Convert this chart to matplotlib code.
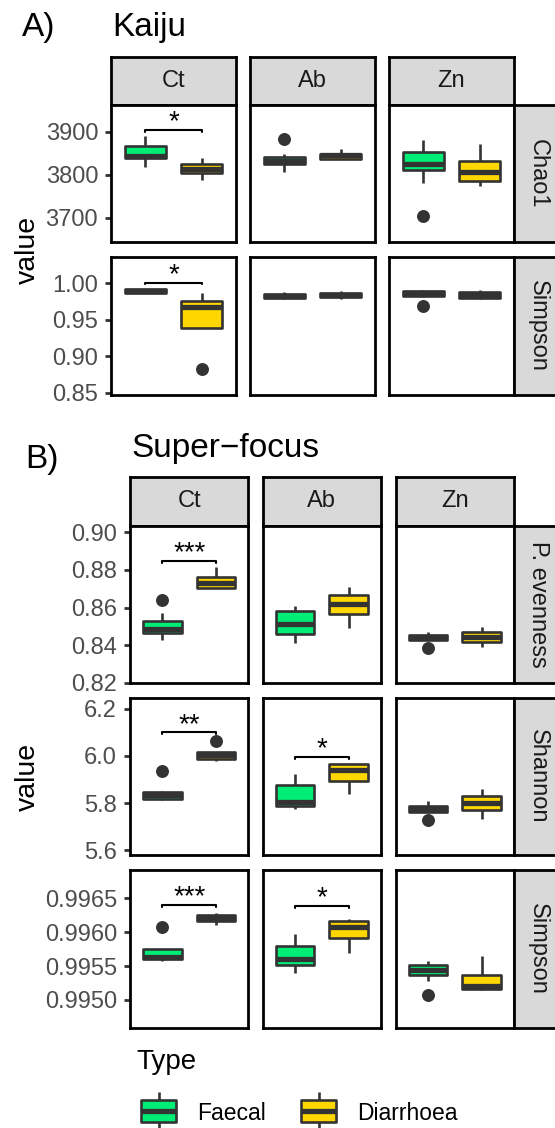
import matplotlib
matplotlib.use('Agg')
import matplotlib.pyplot as plt
from matplotlib.patches import Rectangle

plt.rcParams['font.family'] = ['Liberation Sans', 'DejaVu Sans']

W, H = 555, 1128

sites = ['Ct', 'Ab', 'Zn']
types = ['Faecal', 'Diarrhoea']
type_colors = ['#00EE76', '#FFD700']
edge_color = '#333333'

# five-number summaries: whisker low, Q1, median, Q3, whisker high
# box order: Ct Faecal, Ct Diarrhoea, Ab Faecal, Ab Diarrhoea, Zn Faecal, Zn Diarrhoea
kaiju_chao1 = [
    [3818, 3838, 3843, 3867, 3890],
    [3787, 3804, 3813, 3824, 3840],
    [3806, 3825, 3833, 3841, 3848],
    [3837, 3837, 3846, 3849, 3859],
    [3781, 3812, 3824, 3852, 3881],
    [3774, 3785, 3807, 3833, 3871],
]
kaiju_chao1_out = [[], [], [3883], [], [3703], []]
kaiju_chao1_sig = ['*', '', '']
kaiju_chao1_bar = [3904, None, None]

kaiju_simpson = [
    [0.9858, 0.9862, 0.9885, 0.9912, 0.9915],
    [0.9391, 0.9391, 0.9676, 0.9751, 0.9862],
    [0.9780, 0.9798, 0.9826, 0.9855, 0.9880],
    [0.9775, 0.9806, 0.9838, 0.9870, 0.9895],
    [0.9815, 0.9822, 0.9859, 0.9896, 0.9898],
    [0.9775, 0.9795, 0.9836, 0.9877, 0.9900],
]
kaiju_simpson_out = [[], [0.882], [], [], [0.9686], []]
kaiju_simpson_sig = ['*', '', '']
kaiju_simpson_bar = [1.0004, None, None]

sf_evenness = [
    [0.8427, 0.8462, 0.8485, 0.8527, 0.8572],
    [0.8706, 0.8706, 0.8729, 0.8763, 0.8817],
    [0.8413, 0.8458, 0.8512, 0.8580, 0.8610],
    [0.8489, 0.8564, 0.8620, 0.8669, 0.8707],
    [0.8429, 0.8429, 0.8441, 0.8453, 0.8470],
    [0.8388, 0.8414, 0.8444, 0.8472, 0.8495],
]
sf_evenness_out = [[0.8640], [], [], [], [0.8386], []]
sf_evenness_sig = ['***', '', '']
sf_evenness_bar = [0.8849, None, None]

sf_shannon = [
    [5.815, 5.817, 5.833, 5.849, 5.852],
    [5.980, 5.989, 6.004, 6.019, 6.019],
    [5.774, 5.788, 5.803, 5.877, 5.924],
    [5.839, 5.895, 5.939, 5.964, 5.964],
    [5.763, 5.763, 5.775, 5.787, 5.810],
    [5.731, 5.770, 5.800, 5.831, 5.859],
]
sf_shannon_out = [[5.936], [6.065], [], [], [5.728], []]
sf_shannon_sig = ['**', '*', '']
sf_shannon_bar = [6.10, 5.997, None]

sf_simpson = [
    [0.99558, 0.99561, 0.99564, 0.99575, 0.99575],
    [0.99610, 0.99617, 0.99621, 0.99626, 0.99629],
    [0.99540, 0.99552, 0.99560, 0.99579, 0.99598],
    [0.99569, 0.99592, 0.99607, 0.99616, 0.99619],
    [0.99528, 0.99537, 0.99544, 0.99551, 0.99557],
    [0.99515, 0.99516, 0.99521, 0.99537, 0.99565],
]
sf_simpson_out = [[0.99607], [], [], [], [0.99507], []]
sf_simpson_sig = ['***', '*', '']
sf_simpson_bar = [0.99640, 0.99639, None]

BOX_LW = 1.9
FRAME_LW = 2.0


def px_rect(x0, y0, x1, y1):
    return [x0 / W, 1 - y1 / H, (x1 - x0) / W, (y1 - y0) / H]


def frame(ax):
    for s in ax.spines.values():
        s.set_color('black')
        s.set_linewidth(FRAME_LW)


def add_strip(fig, box, label, rotation=0):
    ax = fig.add_axes(px_rect(*box))
    ax.set_facecolor('#D9D9D9')
    ax.set_xticks([])
    ax.set_yticks([])
    frame(ax)
    ax.text(0.5, 0.5, label, transform=ax.transAxes, ha='center',
            va='center', rotation=rotation, fontsize=17, color='#1A1A1A')


def draw_panel(ax, summary, outliers, sig, bar, ylim, ticks, fmt, show_y):
    stats = []
    for (lo, q1, med, q3, hi), out in zip(summary, outliers):
        stats.append(dict(whislo=lo, q1=q1, med=med, q3=q3, whishi=hi, fliers=out))
    res = ax.bxp(stats, positions=[1, 2], widths=0.72, patch_artist=True,
                 showcaps=False,
                 boxprops=dict(edgecolor=edge_color, linewidth=BOX_LW, joinstyle='round'),
                 medianprops=dict(color=edge_color, linewidth=2 * BOX_LW, solid_capstyle='butt'),
                 whiskerprops=dict(color=edge_color, linewidth=BOX_LW, solid_capstyle='butt'),
                 flierprops=dict(marker='o', markerfacecolor=edge_color,
                                 markeredgecolor=edge_color, markersize=8.3))
    for patch, c in zip(res['boxes'], type_colors):
        patch.set_facecolor(c)
    if sig:
        tip = 0.012 * (ylim[1] - ylim[0])
        ax.plot([1, 1, 2, 2], [bar - tip, bar, bar, bar - tip], color='black',
                lw=1.5, solid_capstyle='round')
        ax.annotate(sig, xy=(1.5, bar), xytext=(0, 0.5), textcoords='offset points',
                    ha='center', va='baseline', fontsize=20, color='black')
    ax.set_xlim(0.4, 2.6)
    ax.set_ylim(*ylim)
    ax.set_xticks([])
    frame(ax)
    if show_y:
        ax.set_yticks(ticks)
        ax.set_yticklabels([fmt.format(t) for t in ticks])
        ax.tick_params(axis='y', direction='out', length=4.3, width=FRAME_LW,
                       color=edge_color, labelsize=17, labelcolor='#4D4D4D', pad=5.0)
    else:
        ax.set_yticks([])


def draw_section(fig, cols, rows, header, strip_x, metrics):
    for (x0, x1), site in zip(cols, sites):
        add_strip(fig, (x0, header[0], x1, header[1]), site)
    for (y0, y1), m in zip(rows, metrics):
        label, summary, outliers, sig, bar, ylim, ticks, fmt = m
        for j, (x0, x1) in enumerate(cols):
            ax = fig.add_axes(px_rect(x0, y0, x1, y1))
            draw_panel(ax, summary[2 * j:2 * j + 2], outliers[2 * j:2 * j + 2],
                       sig[j], bar[j], ylim, ticks, fmt, j == 0)
        add_strip(fig, (strip_x[0], y0, strip_x[1], y1), label, rotation=-90)


fig = plt.figure(figsize=(W / 100, H / 100), dpi=100)

# Kaiju section
draw_section(
    fig,
    cols=[(111, 236), (250, 375), (389, 514)],
    rows=[(104.7, 242.3), (256.7, 395)],
    header=(56.5, 104.7),
    strip_x=(514, 562),
    metrics=[
        ('Chao1', kaiju_chao1, kaiju_chao1_out, kaiju_chao1_sig, kaiju_chao1_bar,
         (3642.8, 3962.8), [3700, 3800, 3900], '{:.0f}'),
        ('Simpson', kaiju_simpson, kaiju_simpson_out, kaiju_simpson_sig, kaiju_simpson_bar,
         (0.8469, 1.036), [0.85, 0.90, 0.95, 1.00], '{:.2f}'),
    ],
)

# Super-focus section
draw_section(
    fig,
    cols=[(130, 248.3), (262.7, 381), (395.7, 514)],
    rows=[(525.5, 683), (697.5, 855), (870, 1028)],
    header=(477, 525.5),
    strip_x=(514, 562),
    metrics=[
        ('P. evenness', sf_evenness, sf_evenness_out, sf_evenness_sig, sf_evenness_bar,
         (0.81984, 0.90362), [0.82, 0.84, 0.86, 0.88, 0.90], '{:.2f}'),
        ('Shannon', sf_shannon, sf_shannon_out, sf_shannon_sig, sf_shannon_bar,
         (5.5796, 6.2484), [5.6, 5.8, 6.0, 6.2], '{:.1f}'),
        ('Simpson', sf_simpson, sf_simpson_out, sf_simpson_sig, sf_simpson_bar,
         (0.994587, 0.996917), [0.9950, 0.9955, 0.9960, 0.9965], '{:.4f}'),
    ],
)

# titles, axis titles and legend on a pixel-based overlay
overlay = fig.add_axes([0, 0, 1, 1], facecolor='none')
overlay.set_xlim(0, W)
overlay.set_ylim(H, 0)
overlay.axis('off')

overlay.text(22, 36, 'A)', fontsize=24, va='baseline')
overlay.text(112, 36, 'Kaiju', fontsize=24, va='baseline')
overlay.text(25, 468, 'B)', fontsize=24, va='baseline')
overlay.text(131.5, 457, 'Super\u2212focus', fontsize=24, va='baseline')

overlay.text(28, 249.9, 'value', rotation=90, fontsize=20.5, ha='center', va='center')
overlay.text(28, 776.9, 'value', rotation=90, fontsize=20.5, ha='center', va='center')

overlay.text(136, 1069.3, 'Type', fontsize=20, va='baseline')
for i, (name, color) in enumerate(zip(types, type_colors)):
    kx = 141.4 + 160 * i
    cx = kx + 17.5
    overlay.plot([cx, cx], [1091.7, 1099.5], color=edge_color, lw=BOX_LW, solid_capstyle='butt')
    overlay.plot([cx, cx], [1122.2, 1132], color=edge_color, lw=BOX_LW, solid_capstyle='butt')
    overlay.add_patch(Rectangle((kx, 1099.6), 34.6, 22.5, facecolor=color,
                                edgecolor=edge_color, linewidth=BOX_LW, joinstyle='round'))
    overlay.plot([kx, kx + 34.6], [1111, 1111], color=edge_color, lw=2 * BOX_LW,
                 solid_capstyle='butt')
    overlay.text(kx + 55.6, 1120, name, fontsize=16.5, va='baseline')

fig.savefig('out.png', dpi=100)
